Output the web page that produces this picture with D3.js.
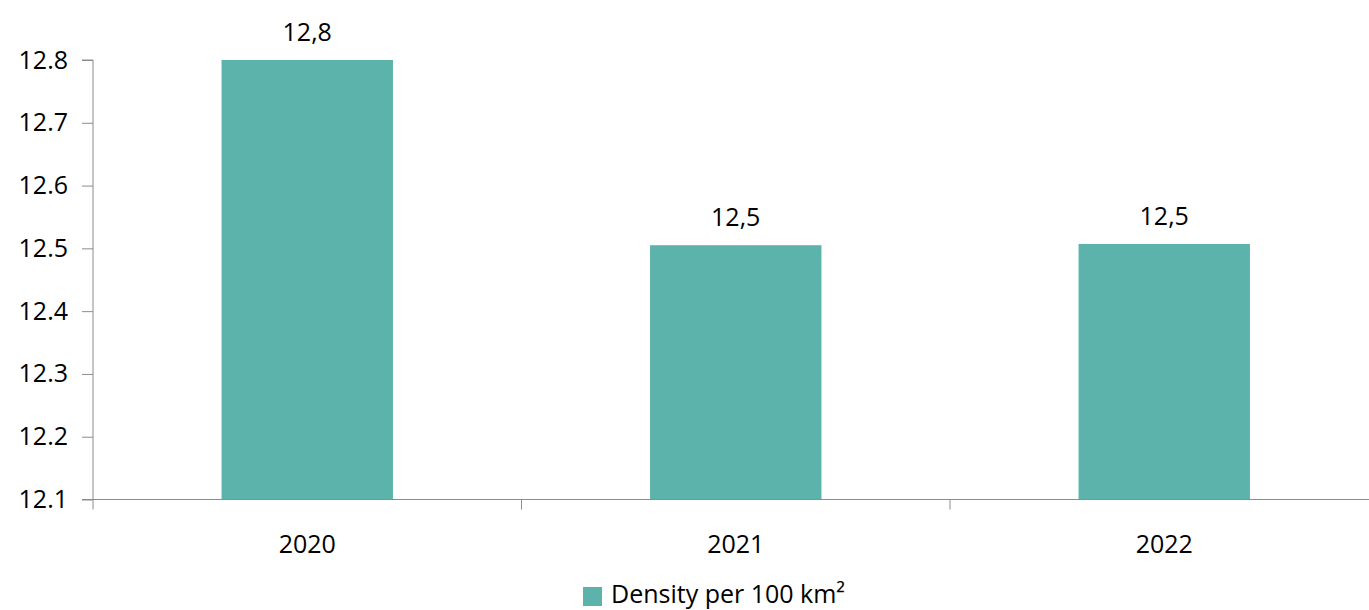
<!DOCTYPE html>
<html><head><meta charset="utf-8">
<script src="https://cdn.jsdelivr.net/npm/d3@7"></script>
<style>
html,body{margin:0;padding:0;background:#fff;overflow:hidden}
text{font-family:"Open Sans","Noto Sans",sans-serif;fill:#000}
</style></head>
<body>
<svg id="c" width="1369" height="610"></svg>
<script>
const categories = ["2020", "2021", "2022"];
const values = [12.8, 12.505, 12.507];
const valueLabels = ["12,8", "12,5", "12,5"];
const yTicks = [12.1, 12.2, 12.3, 12.4, 12.5, 12.6, 12.7, 12.8];
const seriesName = "Density per 100 km²";

const svg = d3.select("#c");
const mLeft = 93, mRight = 1378.5, mTop = 60, mBottom = 499.5;
const axisColor = "#8c8c8c", barColor = "#5bb3ab", fs = 25;

const x = d3.scaleBand().domain(categories).range([mLeft, mRight]).paddingInner(0.6).paddingOuter(0.3);
const xb = d3.scaleBand().domain(categories).range([mLeft, mRight]).padding(0);
const y = d3.scaleLinear().domain([12.1, 12.8]).range([mBottom, mTop]);

// bars
svg.selectAll("rect.bar").data(categories).join("rect")
  .attr("class","bar")
  .attr("x", d => x(d)).attr("width", x.bandwidth())
  .attr("y", (d,i) => y(values[i])).attr("height", (d,i) => y(12.1) - y(values[i]))
  .attr("fill", barColor);

// y axis
const ya = svg.append("g").attr("transform", `translate(${mLeft},0)`)
  .call(d3.axisLeft(y).tickValues(yTicks).tickFormat(d3.format(".1f")).tickSize(11).tickPadding(14));
ya.select(".domain").attr("stroke", axisColor).attr("d", `M-11,${mTop}H0V${mBottom}`);
ya.selectAll(".tick line").attr("stroke", axisColor);
ya.selectAll(".tick text").attr("font-size", fs).attr("fill","#000").attr("font-family",'"Open Sans",sans-serif');

// x axis
const xa = svg.append("g").attr("transform", `translate(0,${mBottom})`)
  .call(d3.axisBottom(xb).tickSize(0).tickPadding(36));
xa.select(".domain").attr("stroke", axisColor).attr("d", `M${mLeft-11},0H${mRight}`);
xa.selectAll(".tick text").attr("font-size", fs).attr("fill","#000").attr("font-family",'"Open Sans",sans-serif');
// category boundary ticks
const bounds = categories.map(c => xb(c)).concat([xb(categories[categories.length-1]) + xb.bandwidth()]);
svg.append("g").selectAll("line").data(bounds).join("line")
  .attr("x1", d => d).attr("x2", d => d)
  .attr("y1", mBottom).attr("y2", mBottom + 10)
  .attr("stroke", axisColor);

// data labels
svg.selectAll("text.lbl").data(categories).join("text")
  .attr("class","lbl")
  .attr("x", d => x(d) + x.bandwidth()/2)
  .attr("y", (d,i) => y(values[i]) - 19)
  .attr("text-anchor","middle").attr("font-size", fs)
  .text((d,i) => valueLabels[i]);

// legend
const lg = svg.append("g");
lg.append("rect").attr("x", 583).attr("y", 587).attr("width", 19).attr("height", 19).attr("fill", barColor);
lg.append("text").attr("x", 611).attr("y", 603).attr("font-size", fs).text(seriesName);
</script>
</body></html>
